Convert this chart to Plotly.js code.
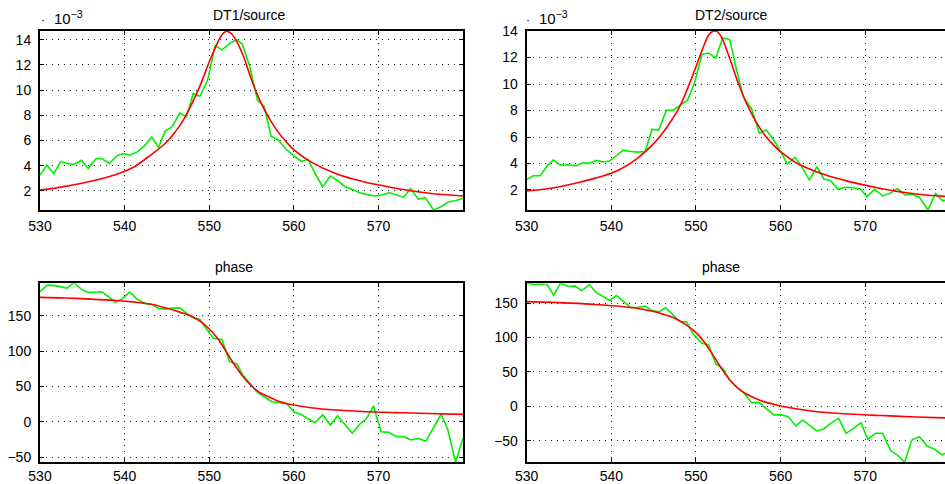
<!DOCTYPE html>
<html>
<head>
<meta charset="utf-8">
<script src="https://cdn.plot.ly/plotly-3.0.1.min.js"></script>
<style>
html, body { margin: 0; padding: 0; overflow: hidden; background: #fff; width: 945px; height: 484px; }
#plot { width: 950px; height: 484px; }
</style>
</head>
<body>
<div id="plot"></div>
<script>
// ---- Data ----
// Panel 1: DT1/source (x10^-3)
const dt1X = [530,530.8,531.65,532.4,533.2,534.0,534.9,535.7,536.6,537.3,538.2,539.1,539.85,540.6,541.5,542.4,543.2,544.0,544.8,545.6,546.5,547.3,548.1,548.9,549.8,550.7,551.5,552.5,553.2,553.9,554.8,555.7,556.5,557.3,558.2,559.1,559.9,560.85,561.7,562.5,563.4,564.3,565.1,566.05,566.9,567.8,568.6,569.5,570.4,571.3,572.2,572.95,573.8,574.7,575.5,576.5,577.4,578.3,579.05,579.98];
const dt1Meas = [3.24,4.03,3.37,4.30,4.18,4.09,4.43,3.77,4.54,4.56,4.17,4.78,4.96,4.83,5.09,5.62,6.28,5.44,6.76,7.07,8.18,7.87,9.72,9.51,10.78,13.55,13.2,13.74,14.0,13.68,11.83,9.19,8.71,6.33,6.02,5.28,4.83,4.35,4.48,3.37,2.32,3.16,2.84,2.32,2.10,1.84,1.71,1.58,1.66,1.84,1.66,1.47,2.18,1.31,1.47,0.47,0.73,1.13,1.21,1.39];
const fitX = [530,533,536,539,541,543,545,546,547,548,549,550,551,551.5,552,552.5,553,554,555,556,557,558,559,560,562,565,568,572,576,579.98];
const dt1Fit = [2.05,2.35,2.75,3.3,3.85,4.8,5.9,6.7,7.7,9.0,10.5,12.25,13.8,14.4,14.68,14.55,14.15,12.75,10.8,9.15,7.85,6.8,5.95,5.25,4.3,3.35,2.75,2.2,1.8,1.58];

// Panel 2: DT2/source (x10^-3)
const dt2X = [530,530.8,531.6,532.4,533.15,534.0,534.9,535.8,536.6,537.4,538.2,539.1,539.8,540.6,541.4,542.3,543.2,544.0,544.8,545.6,546.5,547.3,548.2,549.0,549.8,550.7,551.5,552.35,553.15,554.0,554.8,555.6,556.6,557.5,558.3,559.2,560.0,560.8,561.7,562.5,563.4,564.3,565.1,565.9,566.8,567.65,568.55,569.45,570.2,571.1,572.05,572.95,573.8,574.7,575.5,576.4,577.4,578.3,579.1,579.98];
const dt2Meas = [2.80,3.08,3.08,3.81,4.26,3.88,3.91,3.81,4.06,4.01,4.23,4.11,4.18,4.58,5.01,4.91,4.86,4.91,6.57,6.52,8.02,8.02,8.45,8.78,10.03,12.24,12.34,11.97,13.47,13.35,11.04,9.03,8.08,6.27,6.52,5.77,4.89,3.96,4.46,3.76,2.75,3.76,2.83,2.70,2.05,2.20,2.17,2.05,1.50,2.05,1.55,1.75,2.12,1.62,1.67,1.45,0.49,1.75,1.20,1.25];
const dt2Fit = [1.92,2.15,2.55,3.05,3.55,4.35,5.5,6.25,7.15,8.2,9.65,11.3,13.0,13.7,13.98,13.95,13.55,11.9,10.05,8.5,7.25,6.25,5.5,4.9,4.0,3.2,2.65,2.1,1.7,1.5];

// Panel 3: phase (DT1)
const ph1X = [530,530.8,531.6,532.4,533.2,534.0,534.9,535.7,536.5,537.3,538.1,538.9,539.8,540.6,541.5,542.4,543.2,544.0,544.8,545.7,546.6,547.3,548.1,548.9,549.7,550.5,551.5,552.4,553.25,554.05,554.8,555.6,556.5,557.4,558.3,559.2,560.0,560.9,561.7,562.5,563.4,564.3,565.15,566.05,566.9,567.8,568.6,569.4,570.3,571.2,572.1,573.0,573.8,574.7,575.6,576.5,577.4,578.2,579.1,579.98];
const ph1Meas = [183.9,192.8,192.8,191.4,189,196.6,187.2,182.9,183.5,183.9,176.8,168.8,174.5,183.4,173.1,167.4,166,160.4,159.4,160.8,160.8,153.3,147.2,144.8,130.7,118,116.6,85.1,81.8,64.8,54.5,42.7,35.6,28.6,27.2,25.3,14.4,10.2,4.1,-1.1,10.2,-4.4,8.8,-4.4,-16.1,-2.9,5.1,22.5,-13.8,-14.7,-20.8,-20.8,-25.5,-23.2,-27.4,-8,11.2,-11.4,-57,-23.2];
const ph1Fit = [175.9,175,173.5,171.5,169.5,166.5,160.5,157,153.3,148.6,141.5,131.2,118,109,99.2,89.8,80.4,63.9,50.7,41.3,35.6,30,26.5,23.9,20.1,16.8,14.8,13.2,12,10.7];

// Panel 4: phase (DT2)
const ph2X = [530,530.8,531.6,532.4,533.2,534.0,534.9,535.7,536.5,537.4,538.2,539.1,539.85,540.6,541.5,542.3,543.1,544.0,544.8,545.65,546.4,547.3,548.1,548.9,549.7,550.7,551.5,552.35,553.15,554.0,554.8,555.7,556.6,557.5,558.3,559.2,560.0,560.9,561.8,562.6,563.45,564.3,565.1,565.9,566.85,567.75,568.6,569.5,570.3,571.2,572.05,573.0,573.8,574.65,575.5,576.4,577.3,578.2,579.1,579.98];
const ph2Meas = [179.1,177.7,177.7,177.2,161.7,179.1,174.3,175.2,168,177.2,165.5,159.7,153.9,161.2,152.4,143.7,143.7,145.6,139.3,137.4,143.7,133,123.3,122.8,104.9,91.7,89.3,61.7,55.3,38.3,27.7,18.9,5.3,5.3,-2.9,-12.6,-12.1,-15,-28.6,-19.9,-28,-35.9,-33,-24.8,-17.5,-39.3,-32,-23.8,-48.1,-39.3,-39.3,-64.6,-70.9,-81.6,-49,-44.2,-57.8,-62.6,-70.9,-64.6];
const ph2Fit = [152.4,151.2,149.8,147.5,145.5,142.7,137.9,134.5,130.6,124.8,117,107.3,93.2,84,74.8,65,55.3,38.3,26.2,17.5,11.7,6.8,3.5,0.5,-3.9,-8.7,-11.2,-13.5,-15.5,-17];

// Tick labels
const xTicks = [530,540,550,560,570];
const ampTicksL = [2,4,6,8,10,12,14];
const ampTicksR = [2,4,6,8,10,12,14];
const phaseTicks = [-50,0,50,100,150];
const titles = ['DT1/source','DT2/source','phase','phase'];

// ---- Layout helpers ----
const W = 950, H = 484;
const px = v => v / W;
const py = v => (H - v) / H;

const measColor = 'rgb(0,240,0)';
const fitColor = 'rgb(255,0,0)';

function mk(x, y, ax, color, shape) {
  return {x: x, y: y, type: 'scatter', mode: 'lines', xaxis: ax[0], yaxis: ax[1],
          line: {color: color, width: 1.6, shape: shape || 'linear'}, hoverinfo: 'skip', showlegend: false};
}

const data = [
  mk(dt1X, dt1Meas, ['x','y'], measColor),
  mk(fitX, dt1Fit, ['x','y'], fitColor, 'spline'),
  mk(dt2X, dt2Meas, ['x2','y2'], measColor),
  mk(fitX, dt2Fit, ['x2','y2'], fitColor, 'spline'),
  mk(ph1X, ph1Meas, ['x3','y3'], measColor),
  mk(fitX, ph1Fit, ['x3','y3'], fitColor, 'spline'),
  mk(ph2X, ph2Meas, ['x4','y4'], measColor),
  mk(fitX, ph2Fit, ['x4','y4'], fitColor, 'spline')
];

const tickFont = {family: 'Liberation Sans, Arial, sans-serif', size: 14, color: '#000'};
function xax(dom, anchor, standoff) {
  return {domain: dom, anchor: anchor, range: [530, 579.98], tickvals: xTicks, ticktext: xTicks.map(String),
          ticks: 'inside', ticklen: 4, tickwidth: 1, tickcolor: '#000',
          showline: true, linecolor: '#000', linewidth: 2, mirror: 'ticks',
          showgrid: true, gridcolor: '#222', gridwidth: 1, griddash: '1px,5px',
          zeroline: false, tickfont: tickFont, ticklabelstandoff: standoff, fixedrange: true};
}
function yax(dom, anchor, range, ticks) {
  return {domain: dom, anchor: anchor, range: range, tickvals: ticks, ticktext: ticks.map(v => v < 0 ? '\u2212' + Math.abs(v) : String(v)),
          ticks: 'inside', ticklen: 4, tickwidth: 1, tickcolor: '#000',
          showline: true, linecolor: '#000', linewidth: 2, mirror: 'ticks',
          showgrid: true, gridcolor: '#222', gridwidth: 1, griddash: '1px,5px',
          zeroline: false, tickfont: tickFont, ticklabelstandoff: 4, fixedrange: true};
}

const dxL = [px(40), px(463)];
const dxR = [px(526.7), px(949.7)];
const dyT = [py(210), py(31)];
const dyB = [py(462.3), py(283.3)];

function ann(text, x, y, size, anchor) {
  return {text: text, xref: 'paper', yref: 'paper', x: px(x), y: py(y), showarrow: false,
          xanchor: anchor || 'center', yanchor: 'middle',
          font: {family: 'Liberation Sans, Arial, sans-serif', size: size || 14, color: '#000'}};
}

const annotations = [
  ann(titles[0], 249.5, 15),
  ann(titles[1], 731, 15),
  ann(titles[2], 234, 267),
  ann(titles[3], 721, 267),
  ann('10<sup>\u22123</sup>', 52, 17, 15, 'left'),
  ann('10<sup>\u22123</sup>', 537, 17, 15, 'left'),
  ann('\u00b7', 43, 20, 12),
  ann('\u00b7', 528, 20, 12)
];

const layout = {
  width: W, height: H,
  margin: {l: 0, r: 0, t: 0, b: 0},
  paper_bgcolor: '#fff', plot_bgcolor: '#fff',
  showlegend: false,
  xaxis: xax(dxL, 'y', 2),
  yaxis: yax(dyT, 'x', [0.47, 14.7], ampTicksL),
  xaxis2: xax(dxR, 'y2', 2),
  yaxis2: yax(dyT, 'x2', [0.49, 14.0], ampTicksR),
  xaxis3: xax(dxL, 'y3', 0),
  yaxis3: yax(dyB, 'x3', [-57, 195.8], phaseTicks),
  xaxis4: xax(dxR, 'y4', 0),
  yaxis4: yax(dyB, 'x4', [-81.5, 179], phaseTicks),
  annotations: annotations
};

Plotly.newPlot('plot', data, layout, {staticPlot: true, displayModeBar: false});
</script>
</body>
</html>
